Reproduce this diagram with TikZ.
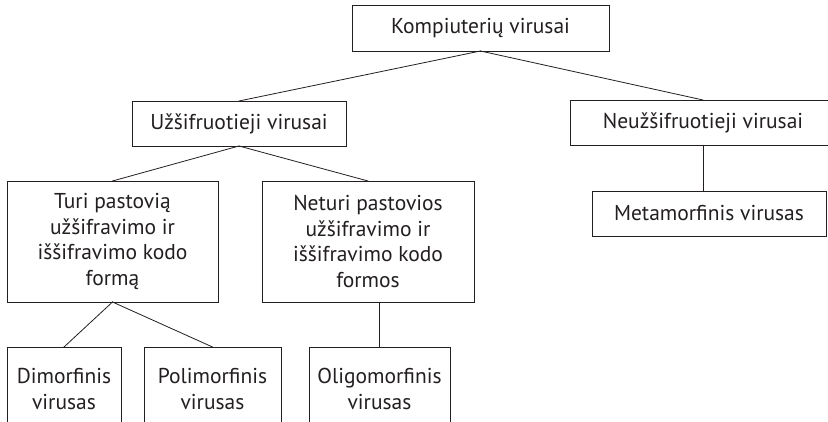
\documentclass[tikz,border=0pt]{standalone}
\usepackage{fontspec}
\setmainfont{PT Sans}
\begin{document}
\begin{tikzpicture}[x=1pt,y=-1pt,line cap=rect,
  virbox/.style={draw=custcol_ink, line width=0.8pt, inner sep=0, outer sep=0, align=center, text=custcol_ink, font=\fontsize{21.5pt}{25.5pt}\selectfont},
  virline/.style={draw=custcol_ink, line width=0.8pt}]
\definecolor{custcol_ink}{RGB}{35, 31, 32}
\clip (0.0,0.0) rectangle (828.0,422.0);
% level 0 and 1
\node[virbox, minimum width=257pt, minimum height=46pt] (komp) at (480.5,28.0) {Kompiuterių virusai};
\node[virbox, minimum width=214pt, minimum height=45pt] (uzs) at (239.0,123.5) {Užšifruotieji virusai};
\node[virbox, minimum width=266pt, minimum height=45pt] (neuzs) at (703.0,122.5) {Neužšifruotieji virusai};
\node[virbox, minimum width=234pt, minimum height=45pt] (meta) at (709.0,213.5) {Metamorfinis virusas};
% level 2
\node[virbox, minimum width=211pt, minimum height=121pt] (turi) at (112.5,241.5) {Turi pastovią\\užšifravimo ir\\iššifravimo kodo\\formą};
\node[virbox, minimum width=212pt, minimum height=121pt] (neturi) at (368.0,241.5) {Neturi pastovios\\užšifravimo ir\\iššifravimo kodo\\formos};
% level 3, cut off at the bottom
\node[virbox, minimum width=114pt, minimum height=84pt] (dimo) at (64.0,389.0) {Dimorfinis\\virusas};
\node[virbox, minimum width=137pt, minimum height=84pt] (poli) at (212.5,389.0) {Polimorfinis\\virusas};
\node[virbox, minimum width=141pt, minimum height=84pt] (oligo) at (379.5,389.0) {Oligomorfinis\\virusas};
\draw [virline] (komp.south) -- (uzs.north) ;
\draw [virline] (komp.south) -- (neuzs.north) ;
\draw [virline] (neuzs.south) -- (neuzs.south |- meta.north) ;
\draw [virline] (uzs.south) -- (turi.north) ;
\draw [virline] (uzs.south) -- (neturi.north) ;
\draw [virline] (turi.south) -- (dimo.north) ;
\draw [virline] (turi.south) -- (poli.north) ;
\draw [virline] (oligo.north |- neturi.south) -- (oligo.north) ;
\end{tikzpicture}
\end{document}
